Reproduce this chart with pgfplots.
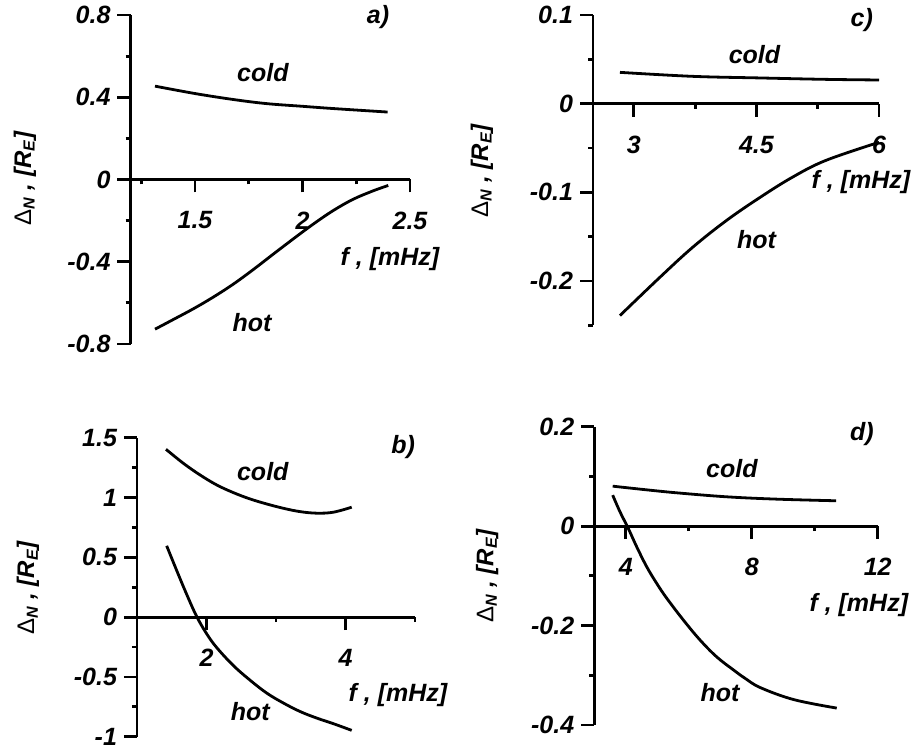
\documentclass[border=0pt]{standalone}
\usepackage{pgfplots}
\pgfplotsset{compat=1.18}
\usepackage{fontspec}
\setmainfont{Liberation Sans}

\newcommand{\lbl}{\fontsize{12.5}{14}\selectfont\bfseries\itshape}
\newcommand{\ylab}{{\fontsize{12}{14}\selectfont\upshape\mdseries\symbol{"0394}\bfseries\itshape\textsubscript{N} , [R\textsubscript{E}]}}

\pgfplotsset{
  panel/.style={
    scale only axis,
    anchor=south west,
    axis x line=middle,
    axis y line=left,
    axis line style={-, line width=1.4pt},
    tick align=outside,
    major tick length=6.5pt,
    minor tick length=2.5pt,
    every tick/.style={black, line width=1.4pt},
    hide obscured x ticks=false,
    hide obscured y ticks=false,
    tick label style={font=\lbl},
    /pgf/number format/assume math mode=true,
    /pgf/number format/fixed,
    xticklabel style={anchor=center, yshift=-14pt},
    clip=false,
  },
  curve/.style={black, line width=1.4pt, smooth, tension=0.6, no marks},
}

\begin{document}
\begin{tikzpicture}
\path[use as bounding box] (0,0) rectangle (457.5pt,375pt);

% a)
\begin{axis}[panel,
  at={(65.25pt,203pt)}, width=139.75pt, height=164.5pt,
  xmin=1.2, xmax=2.5, ymin=-0.8, ymax=0.8,
  xtick={1.5,2,2.5}, minor xtick={1.25,1.75,2.25},
  ytick={-0.8,-0.4,0,0.4,0.8}, minor ytick={-0.6,-0.2,0.2,0.6},
]
\addplot[curve] coordinates {(1.314,0.454) (1.5,0.418) (1.678,0.389) (1.833,0.369) (1.999,0.356) (2.143,0.345) (2.396,0.328)};
\addplot[curve] coordinates {(1.314,-0.728) (1.399,-0.681) (1.492,-0.629) (1.585,-0.572) (1.678,-0.509) (1.771,-0.438) (1.864,-0.363) (1.957,-0.289) (2.05,-0.217) (2.143,-0.151) (2.236,-0.096) (2.329,-0.055) (2.399,-0.029)};
\node[font=\lbl] at (axis cs:2.351,0.79) {a)};
\node[font=\lbl] at (axis cs:1.816,0.522) {cold};
\node[font=\lbl] at (axis cs:1.765,-0.698) {hot};
\node[font=\lbl] at (axis cs:2.407,-0.385) {f , [mHz]};
\node[rotate=90] at (axis cs:0.709,0.005) {\ylab};
\end{axis}

% c)
\begin{axis}[panel,
  at={(296.5pt,212.35pt)}, width=143pt, height=155.15pt,
  xmin=2.5, xmax=6, ymin=-0.25, ymax=0.1,
  xtick={3,4.5,6}, minor xtick={3.75,5.25},
  ytick={-0.2,-0.1,0,0.1}, minor ytick={-0.25,-0.15,-0.05,0.05},
]
\addplot[curve] coordinates {(2.83,0.0353) (3.72,0.0308) (4.54,0.029) (5.35,0.0274) (6.0,0.0267)};
\addplot[curve] coordinates {(2.83,-0.239) (3.317,-0.196) (3.72,-0.162) (4.13,-0.132) (4.54,-0.106) (4.94,-0.083) (5.35,-0.064) (6.0,-0.0436)};
\node[font=\lbl] at (axis cs:5.79,0.0947) {c)};
\node[font=\lbl] at (axis cs:4.476,0.0552) {cold};
\node[font=\lbl] at (axis cs:4.5,-0.153) {hot};
\node[font=\lbl] at (axis cs:5.78,-0.088) {f , [mHz]};
\node[rotate=90] at (axis cs:1.14,-0.076) {\ylab};
\end{axis}

% b)
\begin{axis}[panel,
  at={(68.5pt,6.65pt)}, width=139pt, height=149.5pt,
  xmin=1, xmax=5, ymin=-1, ymax=1.5,
  xtick={2,4}, minor xtick={3,5},
  ytick={-1,-0.5,0,0.5,1,1.5}, minor ytick={-0.75,-0.25,0.25,0.75,1.25},
]
\addplot[curve] coordinates {(1.417,1.403) (1.667,1.286) (1.906,1.189) (2.147,1.105) (2.386,1.041) (2.626,0.988) (2.866,0.946) (3.105,0.91) (3.345,0.882) (3.585,0.869) (3.825,0.877) (4.089,0.919)};
\addplot[curve] coordinates {(1.427,0.596) (1.571,0.39) (1.715,0.19) (1.859,0.005) (2.003,-0.14) (2.147,-0.255) (2.386,-0.405) (2.626,-0.527) (2.866,-0.635) (3.105,-0.718) (3.345,-0.789) (3.585,-0.844) (3.825,-0.891) (4.089,-0.947)};
\node[font=\lbl] at (axis cs:4.83,1.42) {b)};
\node[font=\lbl] at (axis cs:2.81,1.22) {cold};
\node[font=\lbl] at (axis cs:2.63,-0.79) {hot};
\node[font=\lbl] at (axis cs:4.755,-0.65) {f , [mHz]};
\node[rotate=90] at (axis cs:-0.568,0.245) {\ylab};
\end{axis}

% d)
\begin{axis}[panel,
  at={(297.15pt,12.5pt)}, width=141.7pt, height=149.15pt,
  xmin=3, xmax=12, ymin=-0.4, ymax=0.2,
  xtick={4,8,12}, minor xtick={6,10},
  ytick={-0.4,-0.2,0,0.2}, minor ytick={-0.3,-0.1,0.1},
]
\addplot[curve] coordinates {(3.584,0.0804) (4.56,0.0737) (5.62,0.067) (7.2,0.059) (8.79,0.0543) (10.68,0.051)};
\addplot[curve] coordinates {(3.584,0.0623) (3.816,0.0288) (4.08,-0.0047) (4.346,-0.0415) (4.664,-0.0817) (4.98,-0.115) (5.3,-0.145) (5.83,-0.189) (6.357,-0.229) (6.887,-0.263) (7.414,-0.289) (7.786,-0.306) (8.28,-0.325) (9.34,-0.349) (10.7,-0.366)};
\node[font=\lbl] at (axis cs:11.5,0.185) {d)};
\node[font=\lbl] at (axis cs:7.37,0.115) {cold};
\node[font=\lbl] at (axis cs:6.99,-0.334) {hot};
\node[font=\lbl] at (axis cs:11.4,-0.159) {f , [mHz]};
\node[rotate=90] at (axis cs:-0.406,-0.1) {\ylab};
\end{axis}
\end{tikzpicture}
\end{document}
